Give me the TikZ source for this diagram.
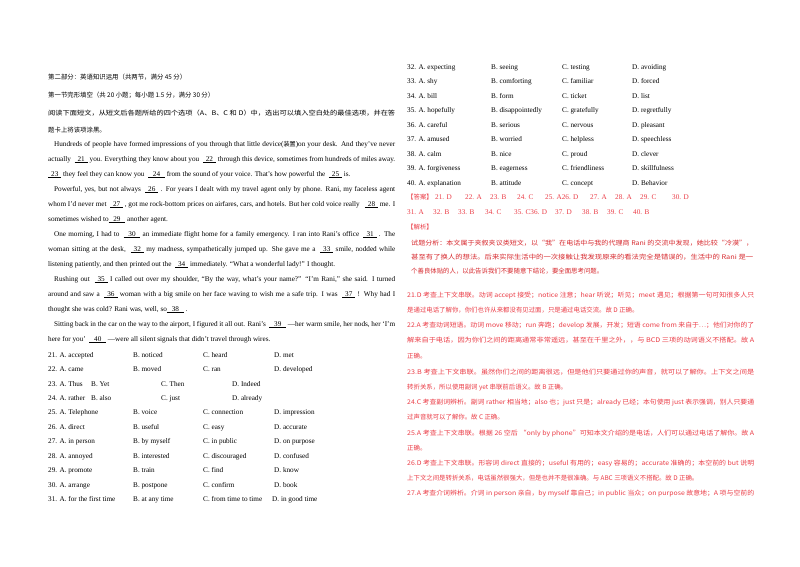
\documentclass[tikz,border=0pt]{standalone}
\usepackage{fontspec}
\usepackage{graphicx}
\setmainfont{Liberation Serif}
\newfontfamily\cjk{Noto Sans CJK SC}
\definecolor{ans}{RGB}{235,60,70}
\definecolor{ans2}{RGB}{215,40,45}
\newcommand\bl[1]{\underline{\hspace{3pt}#1\hspace{3pt}}}
\tikzset{
 t/.style={anchor=base west,inner sep=0pt,font=\fontsize{7.2}{8}\selectfont},
 c/.style={anchor=base west,inner sep=0pt,font=\cjk\fontsize{6.4}{7}\selectfont},
 r/.style={c,text=ans},
 re/.style={t,text=ans}
}
\newcommand\J[2]{\hbox to #1{#2}}
\newcommand\R[2]{\resizebox{#1}{\height}{#2}}
\begin{document}
\begin{tikzpicture}[x=1pt,y=-1pt]
\fill[white] (0,0) rectangle (800,566);
\useasboundingbox (0,0) rectangle (800,566);
% left header
\node[c] (h1) at (48,79) {第二部分：英语知识运用（共两节，满分 45 分）};
\node[c] (h2) at (48,97) {第一节完形填空（共 20 小题；每小题 1.5 分，满分 30 分）};
\node[c] (h3) at (48,115) {\R{347pt}{阅读下面短文，从短文后各题所给的四个选项（A、B、C 和 D）中，选出可以填入空白处的最佳选项，并在答}};
\node[c] (h4) at (48,132) {题卡上将该项涂黑。};
% passage
\node[t] (p1) at (54,146) {\J{341pt}{Hundreds of people have formed impressions of you through that little device({\cjk\fontsize{6.1}{7}\selectfont 装置})on your desk. And they've never}};
\node[t] (p2) at (48,161) {\J{347pt}{actually \ \bl{21} you. Everything they know about you \ \bl{22} through this device, sometimes from hundreds of miles away.}};
\node[t] (p3) at (48,176) {\bl{23}\ they feel they can know you \ \bl{\ 24\ } from the sound of your voice. That's how powerful the \ \bl{25} is.};
\node[t] (p4) at (54,191) {\J{341pt}{Powerful, yes, but not always \ \bl{26} . For years I dealt with my travel agent only by phone. Rani, my faceless agent}};
\node[t] (p5) at (48,206) {\J{347pt}{whom I'd never met \ \bl{27} , got me rock-bottom prices on airfares, cars, and hotels. But her cold voice really \ \ \bl{28} me. I}};
\node[t] (p6) at (48,221) {sometimes wished to\bl{\ 29\ } another agent.};
\node[t] (p7) at (54,236) {\J{341pt}{One morning, I had to \ \bl{\ 30\ } an immediate flight home for a family emergency. I ran into Rani's office \ \bl{31} . The}};
\node[t] (p8) at (48,251) {\J{347pt}{woman sitting at the desk, \ \bl{32} my madness, sympathetically jumped up. She gave me a \ \bl{33} smile, nodded while}};
\node[t] (p9) at (48,266) {listening patiently, and then printed out the \ \bl{34} immediately. ``What a wonderful lady!'' I thought.};
\node[t] (p10) at (54,281) {\J{341pt}{Rushing out \ \bl{35} I called out over my shoulder, ``By the way, what's your name?'' ``I'm Rani,'' she said. I turned}};
\node[t] (p11) at (48,296) {\J{347pt}{around and saw a \ \bl{36} woman with a big smile on her face waving to wish me a safe trip. I was \ \bl{37} ! Why had I}};
\node[t] (p12) at (48,311) {thought she was cold? Rani was, well, so\bl{\ 38\ } .};
\node[t] (p13) at (54,326) {\J{341pt}{Sitting back in the car on the way to the airport, I figured it all out. Rani's \ \bl{\ 39\ } ---her warm smile, her nods, her `I'm}};
\node[t] (p14) at (48,341) {here for you' \ \bl{\ 40\ } ---were all silent signals that didn't travel through wires.};
% options left
\foreach \n/\y/\a/\b/\c/\d in {
21/357/accepted/noticed/heard/met,
22/371/came/moved/ran/developed,
25/414/Telephone/voice/connection/impression,
26/429/direct/useful/easy/accurate,
27/443/in person/by myself/in public/on purpose,
28/458/annoyed/interested/discouraged/confused,
29/472/promote/train/find/know,
30/487/arrange/postpone/confirm/book,
31/501/for the first time/at any time/from time to time/in good time}{
 \node[t] (o\n a) at (48,\y) {\n. A. \a};
 \node[t] (o\n b) at (133,\y) {B. \b};
 \node[t] (o\n c) at (203,\y) {C. \c};
 \node[t] (o\n d) at (\ifnum\n=31 272\else 274\fi,\y) {D. \d};
}
\foreach \n/\y/\a/\b/\c/\d in {23/386/Thus/Yet/Then/Indeed,24/400/rather/also/just/already}{
 \node[t] (o\n a) at (48,\y) {\n. A. \a};
 \node[t] (o\n b) at (91,\y) {B. \b};
 \node[t] (o\n c) at (161,\y) {C. \c};
 \node[t] (o\n d) at (232,\y) {D. \d};
}
% options right
\foreach \n/\y/\a/\b/\c/\d in {
32/69/expecting/seeing/testing/avoiding,
33/83/shy/comforting/familiar/forced,
34/98/bill/form/ticket/list,
35/112/hopefully/disappointedly/gratefully/regretfully,
36/127/careful/serious/nervous/pleasant,
37/141/amused/worried/helpless/speechless,
38/156/calm/nice/proud/clever,
39/170/forgiveness/eagerness/friendliness/skillfulness,
40/185/explanation/attitude/concept/Behavior}{
 \node[t] (o\n a) at (407,\y) {\n. A. \a};
 \node[t] (o\n b) at (491,\y) {B. \b};
 \node[t] (o\n c) at (562,\y) {C. \c};
 \node[t] (o\n d) at (632,\y) {D. \d};
}
% answers
\node[r] (ak) at (407,199) {【答案】};
\foreach \s/\x [count=\i] in {21. D/435,22. A/465,23. B/490,24. C/517,25. A26. D/545,27. A/590,28. A/615,29. C/640,30. D/672}
  \node[re] (a\i) at (\x,199) {\s};
\foreach \s/\x [count=\i] in {31. A/407,32. B/433,33. B/458,34. C/485,35. C36. D/514,37. D/555,38. B/582,39. C/607,40. B/633}
  \node[re] (b\i) at (\x,214) {\s};
\node[r] (jx) at (407,229) {【解析】};
\node[r,text=ans2] (s1) at (411,245) {\R{342pt}{试题分析：本文属于夹叙夹议类短文，以“我”在电话中与我的代理商 Rani 的交流中发现，她比较“冷漠”，}};
\node[r,text=ans2] (s2) at (411,259) {\R{342pt}{甚至有了换人的想法。后来实际生活中的一次接触让我发现原来的看法完全是错误的，生活中的 Rani 是一}};
\node[r,text=ans2] (s3) at (411,273) {个善良体贴的人，以此告诉我们不要随意下结论，要全面思考问题。};
% explanations
\node[r] (e1) at (407,297) {\R{347pt}{21.D 考查上下文串联。动词 accept 接受；notice 注意；hear 听说；听见；meet 遇见；根据第一句可知很多人只}};
\node[r] (e2) at (407,312) {是通过电话了解你，你们也许从来都没有见过面，只是通过电话交流。故 D 正确。};
\node[r] (e3) at (407,327) {\R{347pt}{22.A 考查动词短语。动词 move 移动；run 奔跑；develop 发展，开发；短语 come from 来自于…；他们对你的了}};
\node[r] (e4) at (407,342) {\R{347pt}{解来自于电话，因为你们之间的距离通常非常遥远，甚至在千里之外，，与 BCD 三项的动词语义不搭配。故 A}};
\node[r] (e5) at (407,358) {正确。};
\node[r] (e6) at (407,374) {\R{347pt}{23.B 考查上下文串联。虽然你们之间的距离很远，但是他们只要通过你的声音，就可以了解你。上下文之间是}};
\node[r] (e7) at (407,389) {转折关系，所以使用副词 yet 串联前后语义。故 B 正确。};
\node[r] (e8) at (407,404) {\R{347pt}{24.C 考查副词辨析。副词 rather 相当地；also 也；just 只是；already 已经；本句使用 just 表示强调，别人只要通}};
\node[r] (e9) at (407,419) {过声音就可以了解你。故 C 正确。};
\node[r] (e10) at (407,435) {\R{347pt}{25.A 考查上下文串联。根据 26 空后 “only by phone”可知本文介绍的是电话，人们可以通过电话了解你。故 A}};
\node[r] (e11) at (407,450) {正确。};
\node[r] (e12) at (407,465) {\R{347pt}{26.D 考查上下文串联。形容词 direct 直接的；useful 有用的；easy 容易的；accurate 准确的；本空前的 but 说明}};
\node[r] (e13) at (407,480) {上下文之间是转折关系，电话虽然很强大，但是也并不是很准确。与 ABC 三项语义不搭配。故 D 正确。};
\node[r] (e14) at (407,495) {\R{347pt}{27.A 考查介词辨析。介词 in person 亲自，by myself 靠自己；in public 当众；on purpose 故意地；A 项与空前的}};
\end{tikzpicture}
\end{document}
